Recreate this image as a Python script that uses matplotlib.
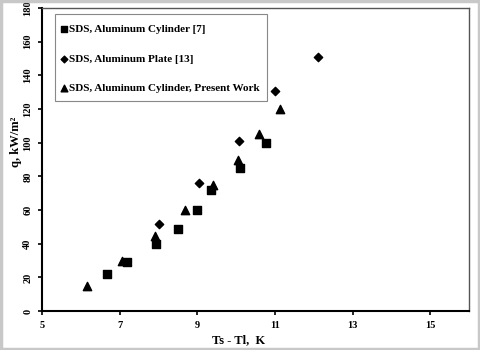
import matplotlib
matplotlib.use("Agg")
import matplotlib.pyplot as plt
from matplotlib.patches import Rectangle

plt.rcParams['font.family'] = ['Liberation Serif', 'DejaVu Serif']
plt.rcParams['font.weight'] = 'bold'

cyl7_x = [6.67, 7.18, 7.93, 8.50, 8.98, 9.34, 10.09, 10.76]
cyl7_y = [22, 29, 40, 49, 60, 72, 85, 100]
plate_x = [8.00, 9.04, 10.06, 11.00, 12.10]
plate_y = [52, 76, 101, 131, 151]
present_x = [6.16, 7.06, 7.90, 8.68, 9.40, 10.04, 10.60, 11.12]
present_y = [15, 30, 44.5, 60, 75, 90, 105, 120]

labels = ['SDS, Aluminum Cylinder [7]', 'SDS, Aluminum Plate [13]',
          'SDS, Aluminum Cylinder, Present Work']
xticks = [5, 7, 9, 11, 13, 15]
yticks = [0, 20, 40, 60, 80, 100, 120, 140, 160, 180]

fig = plt.figure(figsize=(4.8, 3.5), dpi=100)
fig.patches.append(Rectangle((0.003, 0.004), 0.994, 0.992, transform=fig.transFigure,
                             fill=False, edgecolor='#c8c8c8', linewidth=2.5))
ax = fig.add_axes([0.0875, 0.111, 0.890, 0.866])

ax.scatter(cyl7_x, cyl7_y, marker='s', s=30, color='black', label=labels[0], zorder=3)
ax.scatter(plate_x, plate_y, marker='D', s=18, color='black', label=labels[1], zorder=3)
ax.scatter(present_x, present_y, marker='^', s=36, color='black', label=labels[2], zorder=3)

ax.set_xlim(5, 16)
ax.set_ylim(0, 180)
ax.set_xticks(xticks)
ax.set_yticks(yticks)
ax.tick_params(axis='both', direction='out', length=3, width=1.2, labelsize=7.5, pad=4)
for t in ax.get_yticklabels():
    t.set_rotation(90)
    t.set_va('center')
for t in ax.get_xticklabels() + ax.get_yticklabels():
    t.set_fontweight('bold')

ax.spines['left'].set_linewidth(1.5)
ax.spines['bottom'].set_linewidth(1.5)
for s in ['top', 'right']:
    ax.spines[s].set_color('#555555')
    ax.spines[s].set_linewidth(1.0)

ax.set_xlabel('Ts - Tl,  K', fontsize=9, fontweight='bold')
ax.set_ylabel('q, kW/m\u00b2', fontsize=9, fontweight='bold')
ax.xaxis.set_label_coords(0.459, -0.075)
ax.yaxis.set_label_coords(-0.047, 0.56)

# legend frame drawn as a box, legend entries without frame
ax.add_patch(Rectangle((0.030, 0.693), 0.497, 0.287, transform=ax.transAxes,
                       fill=True, facecolor='white', edgecolor='#888888',
                       linewidth=0.8, zorder=4))
leg = ax.legend(loc='upper left', bbox_to_anchor=(0.040, 0.9455), frameon=False,
                handletextpad=0.0, borderpad=0.0, borderaxespad=0.0,
                labelspacing=1.75, handlelength=0.9, markerscale=0.8,
                prop={'weight': 'bold', 'size': 8})
leg.set_zorder(5)

fig.savefig('out.png', dpi=100)
